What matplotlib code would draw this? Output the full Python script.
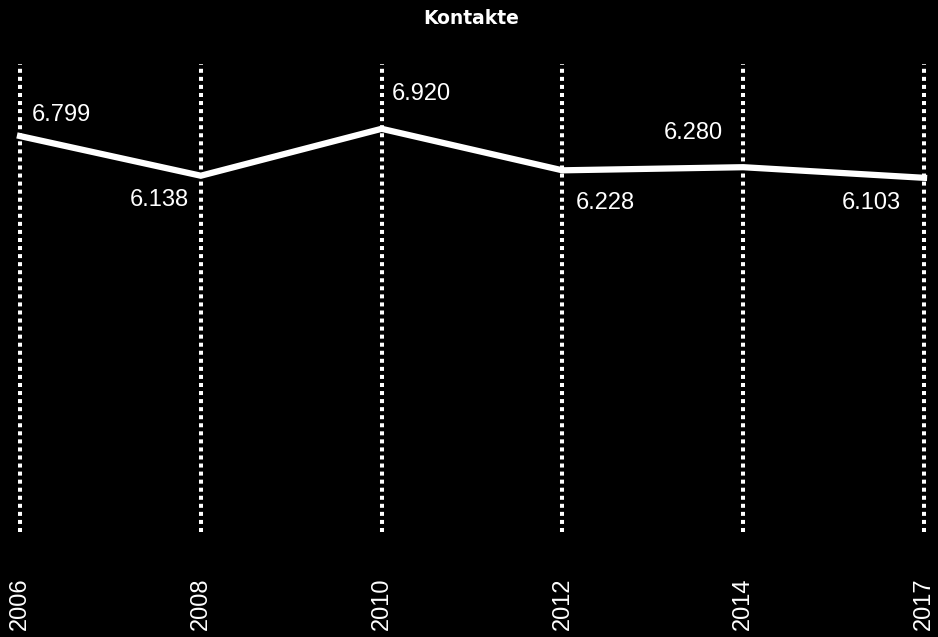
import matplotlib.pyplot as plt
import matplotlib.transforms as mtransforms

years = ["2006", "2008", "2010", "2012", "2014", "2017"]
kontakte = [6.799, 6.138, 6.920, 6.228, 6.280, 6.103]
value_labels = ["6.799", "6.138", "6.920", "6.228", "6.280", "6.103"]

# label offsets in pixels (dx, dy) and horizontal alignment for each point
label_offsets = [(12, 21), (-12, -24), (10, 35), (13, -33), (-20, 34), (-23, -25)]
label_align = ["left", "right", "left", "left", "right", "right"]

W, H = 938, 637
fig = plt.figure(figsize=(W / 100, H / 100), dpi=100, facecolor="black")
ax = fig.add_axes([20 / W, (H - 544) / H, 904 / W, 480 / H])
ax.set_facecolor("black")
ax.set_xlim(0, len(years) - 1)
ax.set_ylim(0, 8)
ax.axis("off")

x = list(range(len(years)))

# dotted vertical guides
for xi in x:
    ax.plot([xi, xi], [0.2, 8], color="white", lw=2.9, dashes=(1, 1),
            solid_capstyle="butt", clip_on=False, zorder=1)

ax.plot(x, kontakte, color="white", lw=4.5, clip_on=False, zorder=3,
        solid_joinstyle="miter")

px = 0.72  # points per pixel at 100 dpi
for xi, yi, lab, (dx, dy), ha in zip(x, kontakte, value_labels, label_offsets, label_align):
    ax.annotate(lab, (xi, yi), xytext=(dx * px, dy * px), textcoords="offset points",
                ha=ha, va="center", color="white", fontsize=17,
                family="Liberation Sans", zorder=4)

trans = mtransforms.blended_transform_factory(ax.transData, fig.transFigure)
for xi, yr in zip(x, years):
    ax.text(xi, 7 / H, yr, transform=trans, rotation=90, ha="center", va="bottom",
            color="white", fontsize=17, family="Liberation Sans", clip_on=False)

fig.text(471 / W, 1 - 19 / H, "Kontakte", ha="center", va="center", color="white",
         fontsize=13.5, fontweight="bold", family="DejaVu Sans")

fig.savefig("out.png", dpi=100, facecolor="black")
